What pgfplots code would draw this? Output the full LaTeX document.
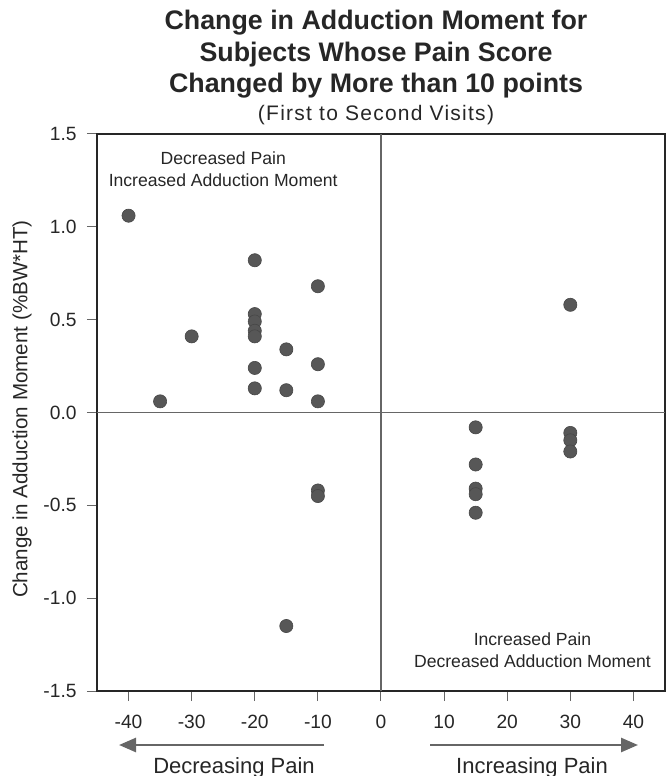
\documentclass[border=0pt]{standalone}
\usepackage{pgfplots}
\pgfplotsset{compat=1.18}
\usepackage{fontspec}
\setmainfont{Liberation Sans}
\newfontfamily\spacedfont[LetterSpace=6]{Liberation Sans}
\usetikzlibrary{arrows.meta}
\begin{document}
\begin{tikzpicture}
\begin{axis}[
  name=ax,
  scale only axis,
  width=284pt, height=278.5pt,
  xmin=-45, xmax=45, ymin=-1.5, ymax=1.5,
  axis line style={line width=1.1pt, black!85},
  xtick={-40,-30,-20,-10,0,10,20,30,40},
  xticklabels={-40,-30,-20,-10,0,10,20,30,40},
  ytick={-1.5,-1,-0.5,0,0.5,1,1.5},
  yticklabels={-1.5,-1.0,-0.5,0.0,0.5,1.0,1.5},
  tick align=outside, tick pos=left,
  major tick length=5pt,
  tick style={black!60, line width=0.5pt},
  ticklabel style={font=\fontsize{9.6}{11}\selectfont, black!85},
  xticklabel style={yshift=-3.5pt},
  yticklabel style={xshift=-1.7pt},
  clip=false,
]
\draw[black!60, line width=0.9pt] (axis cs:0,-1.5) -- (axis cs:0,1.5);
\draw[black!60, line width=0.9pt] (axis cs:-45,0) -- (axis cs:45,0);
\addplot[only marks, mark=*, mark size=3.3pt,
  mark options={fill=black!66, draw=black!72, line width=0.3pt}]
  coordinates {
  (-40,1.06) (-35,0.06) (-30,0.41)
  (-20,0.82) (-20,0.53) (-20,0.49) (-20,0.44) (-20,0.41) (-20,0.24) (-20,0.13)
  (-15,0.34) (-15,0.12) (-15,-1.15)
  (-10,0.68) (-10,0.26) (-10,0.06) (-10,-0.42) (-10,-0.45)
  (15,-0.08) (15,-0.28) (15,-0.41) (15,-0.44) (15,-0.54)
  (30,0.58) (30,-0.11) (30,-0.15) (30,-0.21)
  };
\node[font=\fontsize{8.8}{10.5}\selectfont, anchor=base, black!85] at (axis cs:-25,1.335) {Decreased Pain};
\node[font=\fontsize{8.8}{10.5}\selectfont, anchor=base, black!85] at (axis cs:-25,1.217) {Increased Adduction Moment};
\node[font=\fontsize{8.8}{10.5}\selectfont, anchor=base, black!85] at (axis cs:24,-1.255) {Increased Pain};
\node[font=\fontsize{8.8}{10.5}\selectfont, anchor=base, black!85] at (axis cs:24,-1.373) {Decreased Adduction Moment};
\end{axis}
% titles
\node[font=\fontsize{13.4}{15}\selectfont\bfseries, anchor=base, black!85] at ([shift={(139.5pt,330.5pt)}]ax.south west) {Change in Adduction Moment for};
\node[font=\fontsize{13.4}{15}\selectfont\bfseries, anchor=base, black!85] at ([shift={(139.5pt,314.5pt)}]ax.south west) {Subjects Whose Pain Score};
\node[font=\fontsize{13.4}{15}\selectfont\bfseries, anchor=base, black!85] at ([shift={(139.5pt,299pt)}]ax.south west) {Changed by More than 10 points};
\node[font=\fontsize{10.5}{12}\spacedfont, anchor=base, black!85] at ([shift={(139.5pt,285pt)}]ax.south west) {(First to Second Visits)};
% y label
\node[font=\fontsize{10.3}{12}\selectfont, rotate=90, anchor=center, black!85] at ([shift={(-37.5pt,141pt)}]ax.south west) {Change in Adduction Moment (\%BW*HT)};
% arrows
\draw[black!60, line width=1.3pt, -{Triangle[length=8.5pt,width=7pt]}] ([shift={(113.5pt,-27pt)}]ax.south west) -- ([shift={(11pt,-27pt)}]ax.south west);
\draw[black!60, line width=1.3pt, -{Triangle[length=8.5pt,width=7pt]}] ([shift={(166.5pt,-27pt)}]ax.south west) -- ([shift={(270.5pt,-27pt)}]ax.south west);
\node[font=\fontsize{11}{13}\selectfont, anchor=base, black!85] at ([shift={(68.5pt,-41pt)}]ax.south west) {Decreasing Pain};
\node[font=\fontsize{11}{13}\selectfont, anchor=base, black!85] at ([shift={(217.5pt,-41pt)}]ax.south west) {Increasing Pain};
\pgfresetboundingbox
\useasboundingbox (ax.south west) ++(-48.5pt,-42.5pt) rectangle ++(333.5pt,388pt);
\end{tikzpicture}
\end{document}
